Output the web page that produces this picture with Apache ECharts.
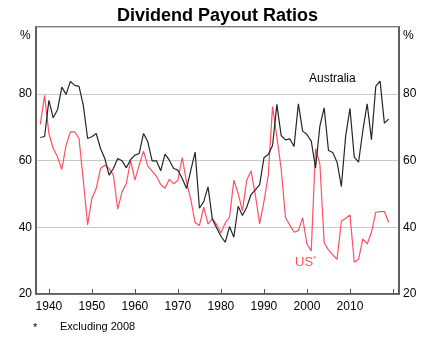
<!DOCTYPE html>
<html>
<head>
<meta charset="utf-8">
<script src="https://cdn.jsdelivr.net/npm/echarts@6/dist/echarts.min.js"></script>
<style>
  html, body { margin: 0; padding: 0; background: #fff; }
  #chart { width: 435px; height: 339px; }
</style>
</head>
<body>
<div id="chart"></div>
<script>
// Annual dividend payout ratios, per cent, 1938 to 2019
const firstYear = 1938;
const australia = [
  66.9, 67.2, 78.0, 72.8, 75.2, 82.0, 79.8, 83.7, 82.5, 82.2,
  76.5, 66.6, 67.1, 68.1, 63.6, 60.6, 55.6, 57.6, 60.6, 59.9,
  57.8, 60.3, 61.6, 62.1, 68.1, 65.6, 59.9, 59.9, 56.9, 61.9,
  60.1, 57.6, 57.1, 54.6, 51.6, 57.1, 62.5, 45.7, 47.7, 52.1,
  42.5, 39.8, 37.3, 35.5, 40.2, 37.0, 46.3, 43.5, 46.0, 49.8,
  51.2, 52.8, 60.8, 61.8, 64.5, 76.8, 67.5, 66.2, 66.5, 64.2,
  77.0, 68.8, 67.8, 65.8, 57.8, 70.3, 75.8, 63.0, 62.4, 59.5,
  52.2, 67.3, 75.6, 61.0, 59.5, 69.0, 77.0, 66.2, 82.2, 83.8,
  71.2, 72.4
];
const us = [
  70.8, 79.5, 68.1, 63.6, 61.1, 57.3, 64.6, 68.6, 68.6, 66.6,
  54.1, 40.7, 48.7, 51.6, 57.6, 58.6, 57.6, 55.6, 45.4, 50.6,
  53.1, 60.0, 54.1, 58.6, 62.8, 58.3, 56.8, 55.3, 52.8, 51.7,
  54.4, 53.0, 54.1, 60.9, 53.5, 48.3, 41.4, 40.5, 46.0, 41.0,
  42.6, 40.8, 38.3, 41.3, 43.0, 54.1, 50.1, 44.9, 54.1, 56.9,
  49.7, 41.0, 47.7, 55.5, 76.2, 67.1, 57.5, 42.9, 40.7, 38.5,
  39.0, 42.8, 34.9, 32.9, 63.6, 59.0, 35.4, 33.2, 31.7, 30.4,
  41.8, 42.7, 43.7, 29.5, 30.4, 36.5, 35.0, 38.5, 44.5, 44.7,
  44.7, 41.4
];
const yearLabels = [1940, 1950, 1960, 1970, 1980, 1990, 2000, 2010];
const yearTicks = [1940, 1950, 1960, 1970, 1980, 1990, 2000, 2010, 2020];
const yTicks = [20, 40, 60, 80];

const toPairs = vals => vals.map((v, i) => [firstYear + i, v]);

const FONT = '"Liberation Sans", Arial, sans-serif';
const AXIS_COLOR = '#555';
const AUS_COLOR = '#262626';
const US_COLOR = '#ff4f62';

const chart = echarts.init(document.getElementById('chart'), null, { renderer: 'canvas' });

const yAxisBase = {
  type: 'value',
  min: 20,
  max: 100,
  interval: 20,
  axisLine: { show: true, lineStyle: { color: AXIS_COLOR, width: 1.5 } },
  axisTick: { show: false },
  axisLabel: {
    color: '#000',
    fontFamily: FONT,
    fontSize: 12,
    margin: 4,
    formatter: v => (yTicks.includes(v) ? String(v) : '')
  }
};

chart.setOption({
  animation: false,
  title: {
    text: 'Dividend Payout Ratios',
    left: 'center',
    top: 2,
    textStyle: { fontFamily: FONT, fontSize: 18, fontWeight: 'bold', color: '#000' }
  },
  grid: {
    left: 36, right: 36, top: 27, bottom: 45,
    show: true,
    borderColor: AXIS_COLOR,
    borderWidth: 1.5,
    backgroundColor: 'transparent'
  },
  xAxis: {
    type: 'value',
    min: 1937,
    max: 2021.4,
    axisLine: { show: true, onZero: false, lineStyle: { color: AXIS_COLOR, width: 1.5 } },
    axisTick: {
      show: true, inside: true, length: 5,
      customValues: yearTicks,
      lineStyle: { color: AXIS_COLOR, width: 1 }
    },
    axisLabel: {
      customValues: yearLabels,
      formatter: v => String(v),
      color: '#000',
      fontFamily: FONT,
      fontSize: 12,
      margin: 7
    },
    splitLine: { show: false }
  },
  yAxis: [
    Object.assign({}, yAxisBase, {
      position: 'left',
      splitLine: { show: true, lineStyle: { color: '#c8c8c8', width: 1 } }
    }),
    Object.assign({}, yAxisBase, {
      position: 'right',
      splitLine: { show: false }
    })
  ],
  series: [
    {
      name: 'Australia',
      type: 'line',
      data: toPairs(australia),
      showSymbol: false,
      lineStyle: { color: AUS_COLOR, width: 1.2 },
      z: 3
    },
    {
      name: 'US',
      type: 'line',
      data: toPairs(us),
      showSymbol: false,
      lineStyle: { color: US_COLOR, width: 1.2 },
      z: 2
    }
  ],
  graphic: [
    { type: 'text', left: 20, top: 30, style: { text: '%', font: '12px ' + FONT, fill: '#000' } },
    { type: 'text', left: 403, top: 30, style: { text: '%', font: '12px ' + FONT, fill: '#000' } },
    { type: 'text', left: 309, top: 73, style: { text: 'Australia', font: '12px ' + FONT, fill: '#000' } },
    {
      type: 'text', left: 295, top: 255,
      style: {
        text: '{a|US}{b|*}',
        rich: {
          a: { fontFamily: FONT, fontSize: 13, fill: US_COLOR, color: US_COLOR },
          b: { fontFamily: FONT, fontSize: 8, fill: US_COLOR, color: US_COLOR, verticalAlign: 'top', padding: [0, 0, 6, 0] }
        }
      }
    },
    { type: 'text', left: 33, top: 322, style: { text: '*', font: '11px ' + FONT, fill: '#000' } },
    { type: 'text', left: 60, top: 321, style: { text: 'Excluding 2008', font: '11px ' + FONT, fill: '#000' } }
  ]
});
</script>
</body>
</html>
